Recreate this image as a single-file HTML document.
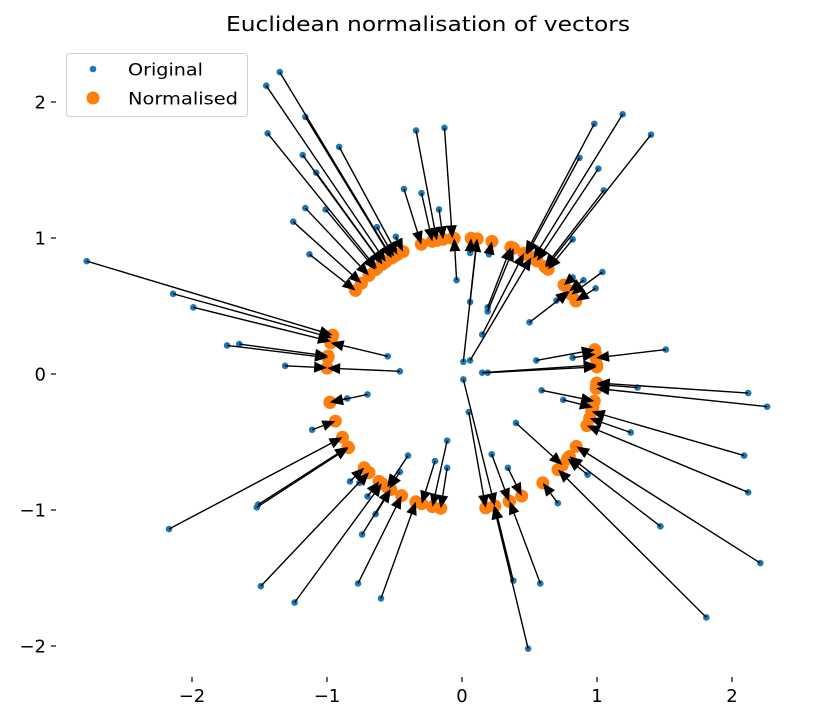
<!DOCTYPE html>
<html><head><meta charset="utf-8"><style>
body{margin:0;background:#fff;}
svg{display:block;font-family:"DejaVu Sans","Liberation Sans",sans-serif;}
</style></head><body>
<svg id="chart" width="813" height="724" viewBox="0 0 813 724" xmlns="http://www.w3.org/2000/svg">
<rect width="813" height="724" fill="#fff"/>
<text x="428" y="31" text-anchor="middle" font-size="20" textLength="404" lengthAdjust="spacingAndGlyphs" fill="#000">Euclidean normalisation of vectors</text>
<g id="axes"></g>
<g id="xticks"></g>
<g id="yticks"></g>
<g>
<rect x="66.5" y="53.5" width="181" height="63" rx="3" fill="#fff" fill-opacity="0.8" stroke="#d0d0d0"/>
<g><circle cx="93" cy="69" r="3.3" fill="#1f77b4"/><text x="128" y="75.5" font-size="17" textLength="75" lengthAdjust="spacingAndGlyphs">Original</text></g>
<g><circle cx="93" cy="98" r="6.5" fill="#ff7f0e"/><text x="128" y="104.5" font-size="17" textLength="110" lengthAdjust="spacingAndGlyphs">Normalised</text></g>
</g>
</svg>
<script>
const origX = [-1.35,-1.45,-1.16,-1.44,-0.91,-1.18,-1.08,-0.34,-0.13,-0.43,-0.30,-0.17,-1.16,-1.01,-1.25,-0.63,-0.49,-1.13,-0.04,-2.78,-2.14,-1.99,-1.74,-1.65,-0.55,-1.31,-0.46,0.06,0.20,0.06,0.19,0.19,0.15,0.01,0.06,0.98,1.19,1.40,0.87,1.01,1.05,0.82,1.04,0.82,0.90,0.99,0.70,0.50,1.51,0.55,0.82,0.15,0.19,-0.70,-0.85,-1.11,-1.51,-1.52,-2.17,0.01,0.05,-0.11,-0.20,-0.11,-0.40,-0.46,-0.83,-0.76,-0.70,-0.64,-0.74,-1.49,-1.24,-0.77,-0.60,0.59,0.75,1.30,2.12,2.26,0.40,1.25,2.09,2.12,0.22,0.34,0.93,0.71,1.47,2.21,1.81,0.58,0.38,0.49];
const origY = [2.22,2.12,1.89,1.77,1.67,1.61,1.48,1.79,1.81,1.36,1.33,1.21,1.22,1.21,1.12,1.08,1.01,0.88,0.69,0.83,0.59,0.49,0.21,0.22,0.13,0.06,0.02,0.89,0.88,0.53,0.49,0.46,0.29,0.09,0.10,1.84,1.91,1.76,1.59,1.51,1.35,0.99,0.75,0.71,0.69,0.63,0.54,0.38,0.18,0.10,0.12,0.01,0.01,-0.15,-0.18,-0.41,-0.96,-0.98,-1.14,-0.04,-0.28,-0.49,-0.64,-0.69,-0.60,-0.72,-0.79,-0.80,-0.90,-1.03,-1.18,-1.56,-1.68,-1.54,-1.65,-0.12,-0.19,-0.10,-0.14,-0.24,-0.36,-0.43,-0.60,-0.87,-0.59,-0.69,-0.74,-0.95,-1.12,-1.39,-1.79,-1.54,-1.52,-2.02];
const xTicks = [-2,-1,0,1,2];
const yTicks = [-2,-1,0,1,2];
const xTickLabels = ["\u22122","\u22121","0","1","2"];
const yTickLabels = ["\u22122","\u22121","0","1","2"];

const NS="http://www.w3.org/2000/svg";
const sx = v => 462 + 135*v;
const sy = v => 374 - 136*v;
function mk(tag, attrs, parent){const e=document.createElementNS(NS,tag);for(const k in attrs)e.setAttribute(k,attrs[k]);parent.appendChild(e);return e;}
const axes=document.getElementById('axes');
const gx=document.getElementById('xticks');
const gy=document.getElementById('yticks');

xTicks.forEach((t,i)=>{
  const l=mk('line',{x1:sx(t),x2:sx(t),y1:677,y2:682,stroke:'#000','stroke-width':1.2},gx);
  
  
  const tx=mk('text',{x:sx(t),y:702,'text-anchor':'middle','font-size':18},gx);
  tx.textContent=xTickLabels[i];
  
  
});
yTicks.forEach((t,i)=>{
  const l=mk('line',{x1:51,x2:56,y1:sy(t),y2:sy(t),stroke:'#000','stroke-width':1.2},gy);
  
  
  const tx=mk('text',{x:46,y:sy(t)+6.5,'text-anchor':'end','font-size':18},gy);
  tx.textContent=yTickLabels[i];
  
  
});

const normX=[],normY=[];
origX.forEach((x,i)=>{const y=origY[i];const n=Math.hypot(x,y);normX.push(x/n);normY.push(y/n);});

origX.forEach((x,i)=>{
  const c=mk('circle',{cx:sx(x),cy:sy(origY[i]),r:3.3,fill:'#1f77b4'},axes);
  
  
});
normX.forEach((x,i)=>{
  const c=mk('circle',{cx:sx(x),cy:sy(normY[i]),r:6.5,fill:'#ff7f0e'},axes);
  
  
});
origX.forEach((x,i)=>{
  const x1=sx(x),y1=sy(origY[i]),x2=sx(normX[i]),y2=sy(normY[i]);
  const dx=x2-x1,dy=y2-y1,L=Math.hypot(dx,dy);
  if(L<0.5)return;
  const ux=dx/L,uy=dy/L,px=-uy,py=ux;
  const hl=Math.min(13,L),hw=5.5;
  const bx=x2-ux*hl,by=y2-uy*hl;
  const g=mk('g',{},axes);
  
  
  mk('line',{x1:x1,y1:y1,x2:bx,y2:by,stroke:'#000','stroke-width':1.4},g);
  mk('polygon',{points:`${x2},${y2} ${bx+px*hw},${by+py*hw} ${bx-px*hw},${by-py*hw}`,fill:'#000'},g);
});
</script>
</body></html>
